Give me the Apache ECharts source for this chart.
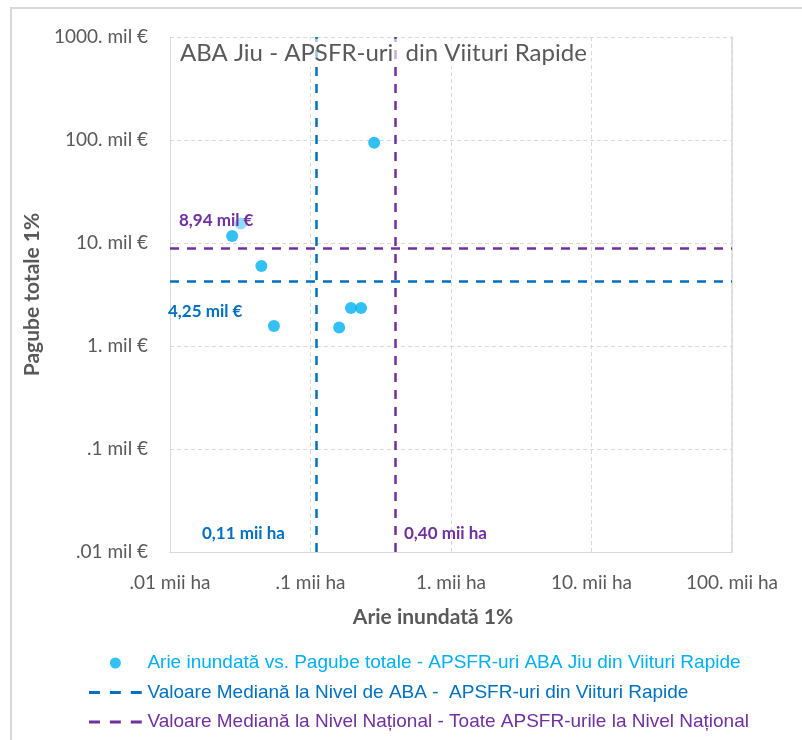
<!DOCTYPE html>
<html><head><meta charset="utf-8">
<script src="https://cdn.jsdelivr.net/npm/echarts@6/dist/echarts.min.js"></script>
<style>html,body{margin:0;padding:0;background:#fff}#c{width:802px;height:740px}</style>
</head><body><div id="c"></div>
<script>
// ---- data ----
const areaX = [0.284, 0.0319, 0.0277, 0.0447, 0.0549, 0.160, 0.194, 0.229];
const damageY = [94.2, 15.5, 11.7, 5.98, 1.56, 1.51, 2.34, 2.34];
const abaMedianX = 0.11, abaMedianY = 4.25;
const natMedianX = 0.40, natMedianY = 8.94;
const xTickLabels = ['.01 mii ha', '.1 mii ha', '1. mii ha', '10. mii ha', '100. mii ha'];
const yTickLabels = ['.01 mil €', '.1 mil €', '1. mil €', '10. mil €', '100. mil €', '1000. mil €'];
const seriesNames = [
  'Arie inundată vs. Pagube totale - APSFR-uri ABA Jiu din Viituri Rapide',
  'Valoare Mediană la Nivel de ABA -  APSFR-uri din Viituri Rapide',
  'Valoare Mediană la Nivel Național - Toate APSFR-urile la Nivel Național'
];
const titleText = 'ABA Jiu - APSFR-uri  din Viituri Rapide';

const C_PT = '#00b0f0', C_ABA = '#0070c0', C_NAT = '#7030a0', C_TXT = '#595959', C_GRID = '#d9d9d9';
const F = 'Lato, "Open Sans", sans-serif';
const FL = '"Liberation Sans Narrow", "Liberation Sans", Arial, sans-serif';
const DASH_ICON = 'path://M0,0h0.05v0.05h-0.05z M0,11h0.05v0.05h-0.05z M0,4h11v3h-11z M21,4h11v3h-11z M42,4h11v3h-11z';

const chart = echarts.init(document.getElementById('c'));
const idx = v => Math.round(Math.log10(v));
chart.setOption({
  animation: false,
  title: {
    text: titleText, left: 176, top: 39,
    backgroundColor: 'rgba(255,255,255,0.6)', padding: [2, 4],
    textStyle: {fontFamily: F, fontSize: 24, fontWeight: 'normal', color: C_TXT}
  },
  grid: {left: 170, right: 70, top: 37, bottom: 188},
  xAxis: {
    type: 'log', logBase: 10, min: 0.01, max: 100,
    name: 'Arie inundată 1%', nameLocation: 'middle', nameGap: 55,
    nameTextStyle: {fontFamily: F, fontSize: 21, fontWeight: 'bold', color: C_TXT, padding: [0, 36, 0, 0]},
    axisLine: {lineStyle: {color: C_GRID, width: 1}}, axisTick: {show: false},
    axisLabel: {margin: 21, fontFamily: F, fontSize: 19, color: C_TXT,
      formatter: v => xTickLabels[idx(v) + 2]},
    splitLine: {show: true, lineStyle: {color: C_GRID, type: [4, 3]}}
  },
  yAxis: [{
    type: 'log', logBase: 10, min: 0.01, max: 1000,
    name: 'Pagube totale 1%', nameLocation: 'middle', nameGap: 127,
    nameTextStyle: {fontFamily: F, fontSize: 21, fontWeight: 'bold', color: C_TXT},
    axisLine: {show: true, lineStyle: {color: C_GRID, width: 1}}, axisTick: {show: false},
    axisLabel: {margin: 22, fontFamily: F, fontSize: 19, color: C_TXT,
      formatter: v => yTickLabels[idx(v) + 2]},
    splitLine: {show: true, lineStyle: {color: C_GRID, type: [4, 3]}}
  }, {
    type: 'log', logBase: 10, min: 0.01, max: 1000, position: 'right',
    axisLine: {show: true, lineStyle: {color: C_GRID, width: 1.5}}, axisTick: {show: false},
    axisLabel: {show: false}, splitLine: {show: false}
  }],
  legend: {
    orient: 'vertical', left: 89, top: 653, padding: 0,
    itemWidth: 54, itemHeight: 11, itemGap: 9.5,
    textStyle: {fontFamily: FL, fontSize: 19, lineHeight: 20},
    data: [
      {name: seriesNames[0], icon: 'circle', textStyle: {color: C_PT}},
      {name: seriesNames[1], icon: DASH_ICON, textStyle: {color: C_ABA}},
      {name: seriesNames[2], icon: DASH_ICON, textStyle: {color: C_NAT}}
    ]
  },
  series: [
    {
      name: seriesNames[0], type: 'scatter', symbolSize: 12, z: 3,
      itemStyle: {color: C_PT},
      data: areaX.map((x, i) => [x, damageY[i]])
    },
    {
      name: seriesNames[1], type: 'line', data: [], symbol: 'none',
      itemStyle: {color: C_ABA},
      lineStyle: {color: C_ABA, type: [11, 10], width: 3},
      markLine: {silent: true, symbol: 'none', label: {show: false},
        lineStyle: {color: C_ABA, type: [9, 8], width: 2.5},
        data: [{xAxis: abaMedianX}, {yAxis: abaMedianY}]}
    },
    {
      name: seriesNames[2], type: 'line', data: [], symbol: 'none',
      itemStyle: {color: C_NAT},
      lineStyle: {color: C_NAT, type: [11, 10], width: 3},
      markLine: {silent: true, symbol: 'none', label: {show: false},
        lineStyle: {color: C_NAT, type: [9, 8], width: 2.5},
        data: [{xAxis: natMedianX}, {yAxis: natMedianY}]}
    }
  ],
  graphic: [
    {type: 'rect', shape: {x: 11, y: 8, width: 820, height: 760}, silent: true,
      style: {fill: 'none', stroke: C_GRID, lineWidth: 2}, z: -1},
    {type: 'text', left: 177, top: 211, z: 100,
      style: {text: '8,94 mil €', fill: C_NAT, font: 'bold 17px ' + F,
        backgroundColor: 'rgba(255,255,255,0.45)', padding: [1, 2]}},
    {type: 'text', left: 168, top: 303, z: 100,
      style: {text: '4,25 mil €', fill: C_ABA, font: 'bold 17px ' + F}},
    {type: 'text', left: 202, top: 525, z: 100,
      style: {text: '0,11 mii ha', fill: C_ABA, font: 'bold 17px ' + F}},
    {type: 'text', left: 404, top: 525, z: 100,
      style: {text: '0,40 mii ha', fill: C_NAT, font: 'bold 17px ' + F}}
  ]
});
</script></body></html>
